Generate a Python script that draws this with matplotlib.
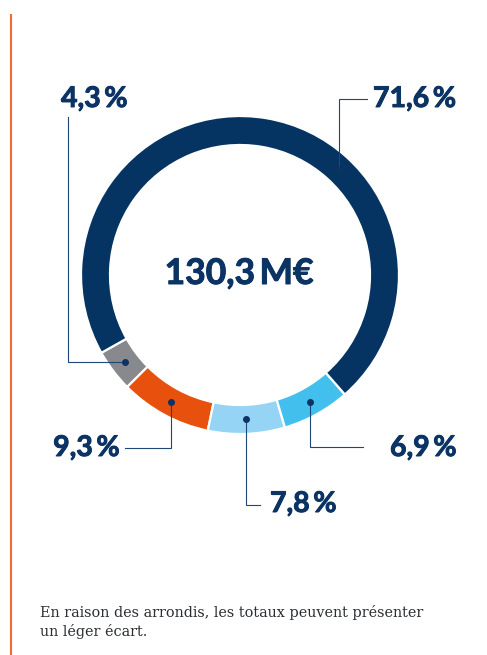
import numpy as np
import matplotlib
matplotlib.use("Agg")
import matplotlib.pyplot as plt
import matplotlib.patheffects as pe

# data, counter-clockwise from the grey slice
shares = [4.3, 9.3, 7.8, 6.9, 71.6]
labels = ["4,3 %", "9,3 %", "7,8 %", "6,9 %", "71,6 %"]
colors = ["#87898c", "#e8500e", "#95d4f5", "#43bfee", "#053463"]
total_label = "130,3 M€"
note = "En raison des arrondis, les totaux peuvent présenter\nun léger écart."

NAVY = "#0b3363"
W, H = 487, 655

fig = plt.figure(figsize=(W / 100, H / 100), dpi=100)
ax = fig.add_axes([0, 0, 1, 1])

cx, cy, R = 240, H - 275, 159
wedges, _ = ax.pie(shares, colors=colors, startangle=209.3, counterclock=True,
                   center=(cx, cy), radius=R,
                   wedgeprops=dict(width=29, edgecolor="white", linewidth=1.6))
ax.set_xlim(0, W)
ax.set_ylim(0, H)
ax.set_aspect("equal")
ax.axis("off")

# where the dot sits along each wedge (fraction of its sweep)
anchor_frac = [0.5, 0.5, 0.5, 0.5, 0.37]
# (text x, text baseline y, ha, elbow end x, elbow end y, horizontal first) in pixels from top
label_pos = [
    (61, 107, "left", 68, 117, True),
    (120, 456, "right", 125, 448, False),
    (270, 512, "left", 260, 505, False),
    (390, 456, "left", 363, 447, False),
    (373, 107, "left", 367, 99, False),
]

bold = [pe.withStroke(linewidth=0.7, foreground=NAVY)]

rm = R - 14.5
for w, f, lab, (tx, ty, ha, ex, ey, hfirst) in zip(wedges, anchor_frac, labels, label_pos):
    t1, t2 = w.theta1, w.theta2
    a = np.deg2rad(t1 + f * (t2 - t1))
    dx, dy = cx + rm * np.cos(a), cy + rm * np.sin(a)
    ey = H - ey
    if hfirst:
        xs, ys = [dx, ex, ex], [dy, dy, ey]
    else:
        xs, ys = [dx, dx, ex], [dy, ey, ey]
    ax.plot(xs, ys, color="#1f4674", lw=0.8, solid_joinstyle="miter", zorder=3)
    ax.plot(dx, dy, "o", color=NAVY, ms=4, zorder=4)
    ax.text(tx, H - ty, lab.replace(" ", "\u2009"), ha=ha, va="baseline", fontsize=20.5,
            fontfamily=["Lato", "DejaVu Sans"], fontweight="bold", color=NAVY,
            path_effects=bold)

ax.text(cx - 1, H - 284, total_label.replace(" ", "\u2009"), ha="center", va="baseline",
        fontsize=25.5, fontfamily=["Lato", "DejaVu Sans"], fontweight="bold", color=NAVY,
        path_effects=bold)

ax.text(40, H - 636, note, ha="left", va="baseline", fontsize=10.4,
        fontfamily="DejaVu Serif", color="#2a2e33", linespacing=1.3)

# orange rule on the left
ax.plot([11, 11], [0, H - 14], color="#f26a2e", lw=1.5, solid_capstyle="butt")

fig.savefig("out.png", dpi=100)
